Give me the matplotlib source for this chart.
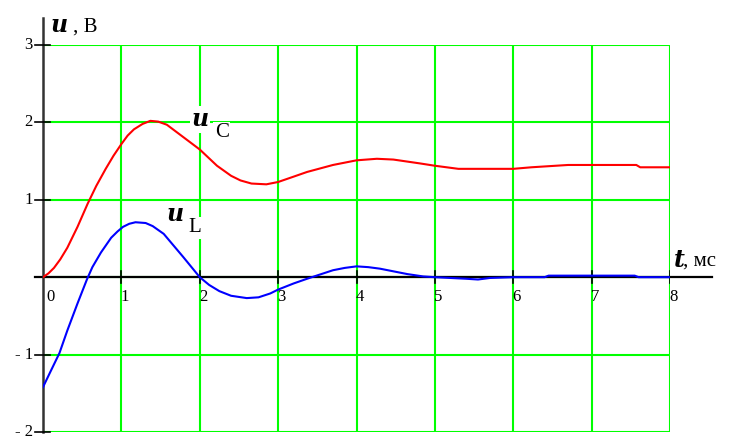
import matplotlib
matplotlib.use("Agg")
import matplotlib.pyplot as plt

# values
t_c = [0, 0.07, 0.14, 0.22, 0.31, 0.44, 0.57, 0.68, 0.8, 0.9, 1.0, 1.08,
       1.16, 1.27, 1.37, 1.47, 1.58, 1.79, 2.0, 2.22, 2.4, 2.52, 2.66, 2.85,
       3.0, 3.2, 3.37, 3.7, 4.0, 4.26, 4.47, 4.81, 5.0, 5.3, 5.6, 6.0, 6.23,
       6.7, 7.0, 7.57, 7.62, 8.0]
u_c = [0, 0.05, 0.12, 0.23, 0.38, 0.65, 0.95, 1.18, 1.4, 1.57, 1.72, 1.83,
       1.91, 1.98, 2.02, 2.01, 1.97, 1.81, 1.65, 1.44, 1.31, 1.25, 1.21, 1.2,
       1.23, 1.3, 1.36, 1.45, 1.51, 1.53, 1.52, 1.47, 1.44, 1.4, 1.4, 1.4,
       1.42, 1.45, 1.45, 1.45, 1.42, 1.42]

t_l = [0, 0.1, 0.21, 0.31, 0.44, 0.56, 0.63, 0.74, 0.87, 0.95, 1.02, 1.1,
       1.18, 1.31, 1.4, 1.54, 1.79, 2.0, 2.12, 2.25, 2.4, 2.6, 2.75, 2.9,
       3.0, 3.2, 3.37, 3.55, 3.7, 3.85, 4.0, 4.15, 4.3, 4.5, 4.65, 4.85, 5.0,
       5.2, 5.4, 5.55, 5.7, 6.0, 6.4, 6.45, 7.0, 7.55, 7.6, 8.0]
u_l = [-1.42, -1.21, -0.98, -0.69, -0.34, -0.03, 0.13, 0.32, 0.51, 0.59,
       0.65, 0.69, 0.71, 0.7, 0.66, 0.56, 0.26, 0.0, -0.1, -0.18, -0.24,
       -0.27, -0.26, -0.21, -0.16, -0.08, -0.02, 0.04, 0.09, 0.12, 0.14,
       0.13, 0.11, 0.07, 0.04, 0.01, 0.0, -0.01, -0.02, -0.03, -0.01, 0.0,
       0.0, 0.02, 0.02, 0.02, 0.0, 0.0]

x_ticks = [1, 2, 3, 4, 5, 6, 7, 8]
x_labels = ['1', '2', '3', '4', '5', '6', '7', '8']
y_ticks = [-2, -1, 1, 2, 3]
y_labels = ['- 2', '- 1', '1', '2', '3']

serif = 'Liberation Serif'
green = '#00ff00'

fig = plt.figure(figsize=(7.38, 4.42), dpi=100)
# axes box = the grid area (t 0..8, u -2..3)
ax = fig.add_axes([43 / 738, 10 / 442, 627 / 738, 387 / 442])
ax.set_xlim(0, 8)
ax.set_ylim(-2, 3)
ax.axis('off')

# green grid
for x in x_ticks:
    ax.plot([x, x], [-2, 3], color=green, lw=1.5, zorder=1)
for y in [-2, -1, 0, 1, 2, 3]:
    ax.plot([0, 8], [y, y], color=green, lw=1.5, zorder=1)

# axes lines
ax.plot([-0.1, 8.54], [0, 0], color='black', lw=1.6, clip_on=False, zorder=3)
ax.plot([0, 0], [-2, 3.35], color='#333333', lw=1.8, clip_on=False, zorder=3)
for x in x_ticks:
    ax.plot([x, x], [-0.08, 0.08], color='black', lw=1.2, zorder=3)
for y in y_ticks:
    ax.plot([-0.1, 0.09], [y, y], color='black', lw=1.2, clip_on=False, zorder=3)

# curves
ax.plot(t_c, u_c, color='#ff0000', lw=1.5, zorder=4)
ax.plot(t_l, u_l, color='#0000ff', lw=1.5, zorder=4)

# tick labels
ax.text(0.1, -0.15, '0', fontsize=12, family=serif, ha='center', va='top')
for x, lab in zip(x_ticks, x_labels):
    ax.text(x + 0.04, -0.15, lab, fontsize=12, family=serif,
            ha='center', va='top', zorder=5)
for y, lab in zip(y_ticks, y_labels):
    ax.text(-0.13, y, lab, fontsize=12, family=serif,
            ha='right', va='center', clip_on=False)

# axis titles and curve labels
bb = dict(facecolor='white', edgecolor='none', pad=1)
ufont = dict(fontsize=17, family='DejaVu Serif', weight='bold', style='italic')
ax.text(0.1, 3.17, 'u', va='baseline', clip_on=False, **ufont)
ax.text(0.38, 3.17, ', B', fontsize=15, family=serif, va='baseline',
        clip_on=False)

ax.text(1.89, 1.95, 'u', va='baseline', bbox=bb, zorder=6, **ufont)
ax.text(2.19, 1.81, 'C', fontsize=15, family=serif, va='baseline',
        bbox=bb, zorder=6)

ax.text(1.57, 0.72, 'u', va='baseline', bbox=bb, zorder=6, **ufont)
ax.text(1.86, 0.58, 'L', fontsize=15, family=serif, va='baseline',
        bbox=bb, zorder=6)

ax.text(8.05, 0.13, 't', va='baseline', clip_on=False, **ufont)
ax.text(8.17, 0.15, ', мс', fontsize=15, family=serif, va='baseline',
        clip_on=False)

fig.savefig('out.png', dpi=100, facecolor='white')
